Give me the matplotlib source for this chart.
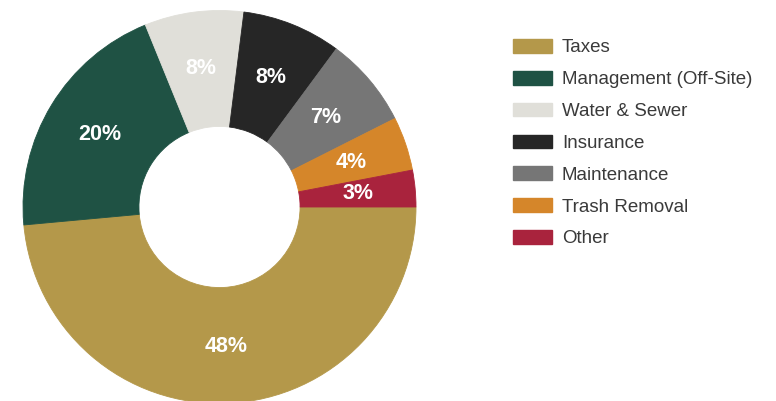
import matplotlib.pyplot as plt
from matplotlib.patches import Patch

# Operating expense breakdown (percent of total)
categories = ["Taxes", "Management (Off-Site)", "Water & Sewer", "Insurance",
              "Maintenance", "Trash Removal", "Other"]
shares = [48.3, 20.2, 8.1, 8.1, 7.4, 4.4, 3.0]
colors = ["#B4984A", "#1F5244", "#E0DFD9", "#262626", "#767676", "#D5862A", "#A9233D"]

plt.rcParams['font.family'] = ['Liberation Sans', 'DejaVu Sans']

fig = plt.figure(figsize=(7.76, 4.01), dpi=100)

# donut sits on the left, slightly clipped at the bottom edge
ax = fig.add_axes([23 / 776, -2.5 / 401, 393 / 776, 393 / 401])
wedges, texts, autotexts = ax.pie(
    shares, colors=colors, startangle=0, counterclock=False,
    autopct=lambda p: f"{p * sum(shares) / 100:.0f}%",
    pctdistance=0.71, radius=1.0,
    wedgeprops=dict(width=0.59, linewidth=0.6, antialiased=True),
    textprops=dict(color="white", fontsize=15.5, fontweight="bold"))
for w, c in zip(wedges, colors):
    w.set_edgecolor(c)
ax.set_xlim(-1, 1)
ax.set_ylim(-1, 1)
ax.set_aspect("equal")
ax.axis("off")

handles = [Patch(facecolor=c, edgecolor=c) for c in colors]
leg = fig.legend(handles, categories, loc="upper left",
                 bbox_to_anchor=(513 / 776, 1 - 39 / 401),
                 frameon=False, fontsize=13.5, handlelength=2.08,
                 handleheight=0.75, handletextpad=0.53, labelspacing=0.77,
                 borderpad=0, borderaxespad=0)
for t in leg.get_texts():
    t.set_color("#3a3a3a")

fig.savefig("out.png", dpi=100)
